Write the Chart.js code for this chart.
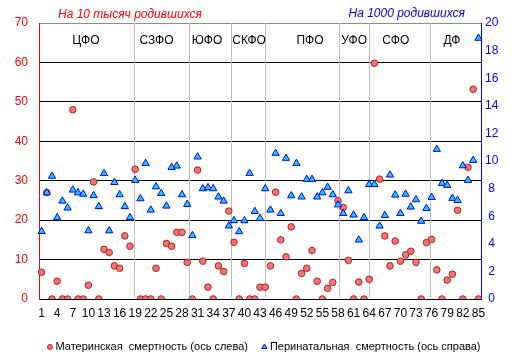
<!DOCTYPE html>
<html>
<head>
<meta charset="utf-8">
<script src="https://cdn.jsdelivr.net/npm/chart.js@4.4.0/dist/chart.umd.min.js"></script>
<style>
  html, body { margin: 0; background: #fff; }
  #wrap { width: 518px; height: 362px; }
</style>
</head>
<body>
<div id="wrap"><canvas id="c"></canvas></div>
<script>
// ── Data ───────────────────────────────────────────────────
const regionNo = Array.from({ length: 85 }, (_, i) => String(i + 1));

// Материнская смертность, на 10 тысяч родившихся (ось слева)
const maternal = [
  6.8, 27, 0, 4.5, 0, 0, 48, 0, 0, 3.5,
  29.7, 0, 12.6, 11.8, 8.4, 7.8, 16, 13.4, 32.9, 0,
  0, 0, 7.8, 0, 14.1, 13.4, 16.9, 16.9, 9.3, 0,
  32.7, 9.6, 3.0, 0, 8.4, 7.0, 22.3, 14.4, 0, 9.0,
  0, 0, 3.0, 3.0, 8.4, 27.1, 15.0, 10.7, 18.3, 0,
  6.5, 7.8, 12.3, 4.5, 0, 2.7, 4.2, 24.9, 23.2, 9.8,
  0, 4.3, 0, 5.0, 59.8, 30.4, 16.0, 8.4, 14.7, 9.6,
  11.2, 12.1, 9.3, 0, 14.3, 15.1, 7.4, 0, 4.8, 6.3,
  22.5, 0, 33.4, 53.2, 0
];

// Перинатальная смертность, на 1000 родившихся (ось справа)
const perinatal = [
  4.9, 7.7, 8.9, 5.9, 7.1, 6.6, 7.9, 7.7, 7.6, 4.95,
  7.5, 6.7, 9.1, 4.95, 8.45, 7.56, 6.7, 5.9, 8.6, 7.27,
  9.83, 6.45, 8.14, 7.65, 6.74, 9.54, 9.64, 7.56, 6.86, 4.6,
  10.3, 8.0, 8.07, 8.0, 7.4, 7.1, 5.3, 5.68, 4.88, 5.68,
  9.1, 6.35, 5.85, 8.0, 6.45, 10.56, 6.2, 10.2, 7.49, 9.83,
  7.4, 8.67, 8.67, 7.4, 7.7, 8.1, 7.56, 6.83, 6.2, 7.85,
  6.09, 4.28, 5.9, 8.3, 8.3, 5.29, 6.06, 8.99, 7.54, 6.2,
  7.6, 6.67, 7.2, 5.64, 6.57, 7.37, 10.85, 8.38, 8.24, 7.3,
  7.15, 9.66, 8.6, 10.05, 18.9
];

// Федеральные округа: подписи и границы (в номерах регионов)
const districts = ['ЦФО', 'СЗФО', 'ЮФО', 'СКФО', 'ПФО', 'УФО', 'СФО', 'ДФ'];
const districtLabelAt = [9.5, 23.1, 32.8, 40.9, 52.6, 61.1, 69.1, 79.9];
const districtBounds = [18.83, 29.44, 37.5, 43.9, 58.1, 64.0, 75.6];

const leftTitle = 'На 10 тысяч родившихся';
const rightTitle = 'На 1000 родившихся';

// ── Styles ─────────────────────────────────────────────────
const FONT = '"Liberation Sans", Arial, sans-serif';
const RED = '#FF0000';
const BLUE = '#0000FF';
Chart.defaults.font.family = FONT;
Chart.defaults.font.size = 12;
Chart.defaults.color = '#000';

// ── Districts, titles, legend ──────────────────────────────
const overlay = {
  id: 'overlay',
  beforeDatasetsDraw(chart) {
    const { ctx, chartArea: a, scales: { x } } = chart;
    ctx.save();
    ctx.strokeStyle = '#BEBEBE';
    ctx.lineWidth = 1;
    districtBounds.forEach(b => {
      const px = Math.round(x.getPixelForValue(b - 1)) + 0.5;
      ctx.beginPath();
      ctx.moveTo(px, a.top);
      ctx.lineTo(px, a.bottom - 2);
      ctx.stroke();
    });
    ctx.fillStyle = '#000';
    ctx.font = '12px ' + FONT;
    ctx.textAlign = 'center';
    ctx.textBaseline = 'middle';
    districts.forEach((d, i) => ctx.fillText(d, x.getPixelForValue(districtLabelAt[i] - 1), a.top + 18));
    ctx.restore();
  },
  afterDraw(chart) {
    const { ctx, chartArea: a } = chart;
    ctx.save();
    // axis titles
    ctx.font = 'italic 12px ' + FONT;
    ctx.textBaseline = 'middle';
    ctx.fillStyle = RED;
    ctx.textAlign = 'left';
    ctx.fillText(leftTitle, a.left + 19, a.top - 8);
    ctx.fillStyle = BLUE;
    ctx.textAlign = 'right';
    ctx.fillText(rightTitle, a.right - 16, a.top - 9);

    // legend
    ctx.font = '11px ' + FONT;
    const items = chart.data.datasets.map(ds => ({
      text: ds.label, style: ds.pointStyle, fill: ds.backgroundColor, stroke: ds.borderColor,
      w: ctx.measureText(ds.label).width
    }));
    const mark = 5, gap = 3, space = 14;
    const total = items.reduce((s, it) => s + mark + gap + it.w, 0) + space * (items.length - 1);
    let lx = (a.left + a.right) / 2 + 4 - total / 2;
    const ly = a.bottom + 48;
    items.forEach(it => {
      ctx.fillStyle = it.fill;
      ctx.strokeStyle = it.stroke;
      ctx.lineWidth = 1;
      Chart.helpers.drawPoint(ctx, { pointStyle: it.style, radius: it.style === 'triangle' ? 3 : 2.5, borderWidth: 1 }, lx + mark / 2, ly);
      ctx.fillStyle = '#000';
      ctx.textAlign = 'left';
      ctx.fillText(it.text, lx + mark + gap, ly);
      lx += mark + gap + it.w + space;
    });
    ctx.restore();
  }
};

// ── Chart ──────────────────────────────────────────────────
new Chart(document.getElementById('c'), {
  type: 'line',
  data: {
    labels: regionNo,
    datasets: [
      {
        label: 'Материнская  смертность (ось слева)',
        data: maternal, yAxisID: 'yL', showLine: false, order: 1,
        pointStyle: 'circle', pointRadius: 3.3, pointHoverRadius: 3.3, pointBorderWidth: 1,
        backgroundColor: '#F07575', borderColor: '#B22222'
      },
      {
        label: 'Перинатальная  смертность (ось справа)',
        data: perinatal, yAxisID: 'yR', showLine: false, order: 0,
        pointStyle: 'triangle', pointRadius: 4.2, pointHoverRadius: 4.2, pointBorderWidth: 1,
        backgroundColor: '#22CCFF', borderColor: '#0000FF'
      }
    ]
  },
  options: {
    responsive: true, maintainAspectRatio: false, animation: false,
    layout: { padding: { top: 23, left: 0, right: 0, bottom: 0 } },
    plugins: { legend: { display: false }, tooltip: { enabled: false } },
    scales: {
      x: {
        type: 'category', offset: true,
        grid: { display: false, drawTicks: false },
        border: { display: true, color: '#000', width: 1 },
        ticks: {
          autoSkip: false, maxRotation: 0, minRotation: 0, padding: 7,
          font: { size: 12 }, color: '#000',
          callback(v, i) { return i % 3 === 0 ? this.getLabelForValue(v) : ''; }
        },
        afterFit(s) { s.height = 63; }
      },
      yL: {
        position: 'left', min: 0, max: 70,
        grid: {
          drawTicks: false,
          color: c => c.tick.value === 70 ? '#8C8C8C' : '#000',
          lineWidth: 1
        },
        border: { display: true, color: RED, width: 1 },
        ticks: { stepSize: 10, padding: 11, color: RED, font: { size: 12 } },
        afterFit(s) { s.width = 39; }
      },
      yR: {
        position: 'right', min: 0, max: 20,
        grid: { display: false, drawTicks: false },
        border: { display: true, color: BLUE, width: 1 },
        ticks: { stepSize: 2, padding: 4, crossAlign: 'center', color: BLUE, font: { size: 12 } },
        afterFit(s) { s.width = 37; }
      }
    }
  },
  plugins: [overlay]
});
</script>
</body>
</html>
